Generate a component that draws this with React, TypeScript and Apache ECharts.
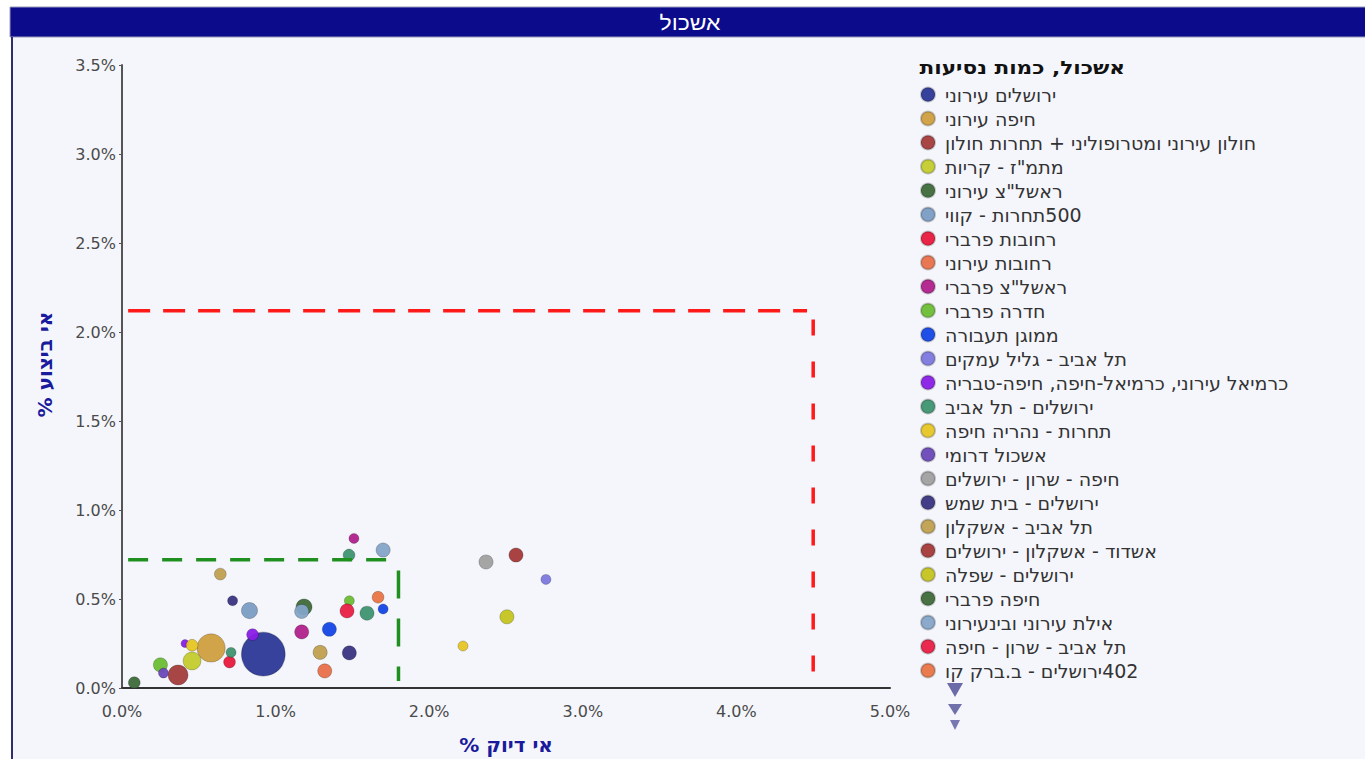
import React, { useEffect, useRef } from "react";
import * as echarts from "echarts";

// Legend entries (series), in legend order
const seriesNames = [
  "ירושלים עירוני",
  "חיפה עירוני",
  "חולון עירוני ומטרופוליני + תחרות חולון",
  "מתמ\"ז - קריות",
  "ראשל\"צ עירוני",
  "500תחרות - קווי",
  "רחובות פרברי",
  "רחובות עירוני",
  "ראשל\"צ פרברי",
  "חדרה פרברי",
  "ממוגן תעבורה",
  "תל אביב - גליל עמקים",
  "כרמיאל עירוני, כרמיאל-חיפה, חיפה-טבריה",
  "ירושלים - תל אביב",
  "תחרות - נהריה חיפה",
  "אשכול דרומי",
  "חיפה - שרון - ירושלים",
  "ירושלים - בית שמש",
  "תל אביב - אשקלון",
  "אשדוד - אשקלון - ירושלים",
  "ירושלים - שפלה",
  "חיפה פרברי",
  "אילת עירוני ובינעירוני",
  "תל אביב - שרון - חיפה",
  "402ירושלים - ב.ברק קו",
];

const seriesColors = [
  "#2b3896", "#cf9f3f", "#a33c3c", "#c3cc2c", "#3d6b3a",
  "#7b9cc4", "#e8183c", "#e8704a", "#b0208c", "#6cbd34",
  "#1446e6", "#7c78de", "#8a1ee6", "#3e9470", "#e6c624",
  "#6a48b8", "#a0a0a0", "#3a3482", "#c0a050", "#a43838",
  "#c4c420", "#3e6a3a", "#84a4c8", "#e81e44", "#e87444",
];

// Bubbles: series index, x = אי דיוק %, y = אי ביצוע %, trips = כמות נסיעות
const pointSeries = [0, 1, 2, 3, 4, 5, 6, 7, 8, 8, 9, 9, 10, 10, 11, 12, 12, 13, 13, 13, 14, 14, 15, 16, 17, 17, 18, 18, 19, 20, 21, 22, 22, 23, 24];
const pointX = [0.92, 0.58, 0.365, 0.456, 0.08, 0.83, 0.70, 1.32, 1.17, 1.51, 0.25, 1.48, 1.35, 1.70, 2.76, 0.85, 0.41, 1.595, 0.71, 1.478, 2.22, 0.456, 0.27, 2.37, 1.48, 0.72, 1.29, 0.64, 2.565, 2.506, 1.185, 1.70, 1.17, 1.465, 1.667];
const pointY = [0.19, 0.225, 0.073, 0.152, 0.03, 0.435, 0.146, 0.096, 0.315, 0.84, 0.13, 0.49, 0.33, 0.444, 0.61, 0.30, 0.25, 0.42, 0.20, 0.747, 0.236, 0.24, 0.084, 0.708, 0.197, 0.49, 0.20, 0.64, 0.747, 0.40, 0.455, 0.775, 0.43, 0.433, 0.51];
const pointTrips = [48000, 20000, 10000, 8000, 3500, 6500, 3500, 5000, 5000, 2500, 5000, 2500, 5000, 2500, 2500, 3500, 1600, 5000, 2500, 3500, 2500, 3500, 2500, 5000, 5000, 2500, 5000, 3500, 5000, 5000, 6500, 5000, 5000, 5000, 3500];

// Threshold boxes
const redLimitX = 4.5;
const redLimitY = 2.12;
const greenLimitX = 1.8;
const greenLimitY = 0.72;

const chartTitle = "אשכול";
const legendTitle = "אשכול, כמות נסיעות";
const xAxisName = "אי דיוק %";
const yAxisName = "אי ביצוע %";

const rtl = (s: string) => "\u202B" + s + "\u202C";
const hebFont = "'DejaVu Sans', 'Liberation Sans', sans-serif";

export default function App() {
  const ref = useRef<HTMLDivElement>(null);

  useEffect(() => {
    if (!ref.current) return;
    const chart = echarts.init(ref.current, null, { renderer: "svg" });

    const scatterSeries = seriesNames.map((name, i) => ({
      type: "scatter",
      name,
      data: pointSeries
        .map((s, k) => (s === i ? [pointX[k], pointY[k], pointTrips[k]] : null))
        .filter((d) => d !== null),
      symbolSize: (v: number[]) => Math.sqrt(v[2]) / 5,
      itemStyle: {
        color: seriesColors[i],
        borderColor: "rgba(0,0,0,0.22)",
        borderWidth: 1,
        opacity: 0.95,
      },
      z: 2,
    }));

    const limitLine = (name: string, data: number[][], color: string, dash: number[]) => ({
      type: "line",
      name,
      data,
      symbol: "none",
      silent: true,
      lineStyle: { color, width: 3.5, type: dash },
      z: 5,
    });

    const labelFont = { fontFamily: "'DejaVu Sans', sans-serif", fontSize: 16, color: "#4a4a4a" };

    chart.setOption({
      animation: false,
      backgroundColor: "#f5f6fc",
      grid: { left: 122, right: 475, top: 65, bottom: 71, containLabel: false, outerBoundsMode: "none" },
      xAxis: {
        type: "value",
        min: 0,
        max: 5,
        interval: 1,
        name: rtl(xAxisName),
        nameLocation: "middle",
        nameGap: 47,
        nameTextStyle: { color: "#1a1a9c", fontWeight: "bold", fontSize: 20, fontFamily: hebFont },
        axisLine: { lineStyle: { color: "#333", width: 2 } },
        axisTick: { show: false },
        splitLine: { show: false },
        axisLabel: { ...labelFont, margin: 15, formatter: (v: number) => v.toFixed(1) + "%" },
      },
      yAxis: {
        type: "value",
        min: 0,
        max: 3.5,
        interval: 0.5,
        name: rtl(yAxisName),
        nameLocation: "middle",
        nameGap: 67,
        nameRotate: 90,
        nameTextStyle: { color: "#1a1a9c", fontWeight: "bold", fontSize: 20, fontFamily: hebFont, padding: [0, 0, 0, 24] },
        axisLine: { show: true, lineStyle: { color: "#555", width: 2 } },
        axisTick: { show: true, length: 3, lineStyle: { color: "#555" } },
        splitLine: { show: false },
        axisLabel: { ...labelFont, margin: 6, formatter: (v: number) => v.toFixed(1) + "%" },
      },
      legend: {
        data: seriesNames,
        orient: "vertical",
        left: 920,
        top: 85,
        padding: 0,
        itemWidth: 24,
        itemHeight: 14,
        itemGap: 5,
        icon: "circle",
        formatter: (name: string) => rtl(name),
        textStyle: { fontSize: 19, color: "#333", fontFamily: hebFont },
      },
      graphic: [
        { type: "rect", shape: { x: 0, y: 0, width: 1365, height: 8 }, style: { fill: "#ffffff" }, silent: true },
        { type: "rect", shape: { x: 0, y: 0, width: 11, height: 759 }, style: { fill: "#ffffff" }, silent: true },
        { type: "rect", shape: { x: 10, y: 7, width: 1356, height: 30 }, style: { fill: "#0b0b8c", stroke: "#9a9ab8", lineWidth: 1 }, silent: true },
        { type: "line", shape: { x1: 12, y1: 37, x2: 12, y2: 759 }, style: { stroke: "#2e2e6e", lineWidth: 2 }, silent: true },
        {
          type: "text",
          x: 690,
          y: 23,
          scaleX: 1.15,
          style: { text: chartTitle, fill: "#ffffff", fontSize: 20, fontFamily: "'Liberation Sans', sans-serif", align: "center", verticalAlign: "middle" },
          silent: true,
        },
        {
          type: "text",
          x: 1125,
          y: 68,
          scaleX: 1.2,
          style: { text: rtl(legendTitle), fill: "#111", fontSize: 18, fontWeight: "bold", fontFamily: hebFont, align: "right", verticalAlign: "middle" },
          silent: true,
        },
        { type: "polygon", shape: { points: [[947, 683], [963, 683], [955, 697]] }, style: { fill: "#6b6ba8" }, silent: true },
        { type: "polygon", shape: { points: [[948, 704], [962, 704], [955, 715]] }, style: { fill: "#7070aa" }, silent: true },
        { type: "polygon", shape: { points: [[950, 720], [960, 720], [955, 730]] }, style: { fill: "#7878b0" }, silent: true },
      ],
      series: [
        ...scatterSeries,
        limitLine("red-h", [[0.04, redLimitY], [redLimitX - 0.04, redLimitY]], "#ff1a1a", [22, 13]),
        limitLine("red-v", [[redLimitX, redLimitY - 0.05], [redLimitX, 0.04]], "#ff1a1a", [16, 26]),
        limitLine("green-h", [[0.04, greenLimitY], [greenLimitX, greenLimitY]], "#1f8f1f", [20, 14]),
        limitLine("green-v", [[greenLimitX, greenLimitY - 0.06], [greenLimitX, 0.04]], "#1f8f1f", [28, 20]),
      ],
    });

    return () => chart.dispose();
  }, []);

  return <div ref={ref} style={{ position: "absolute", left: 0, top: 0, width: 1365, height: 759 }} />;
}
